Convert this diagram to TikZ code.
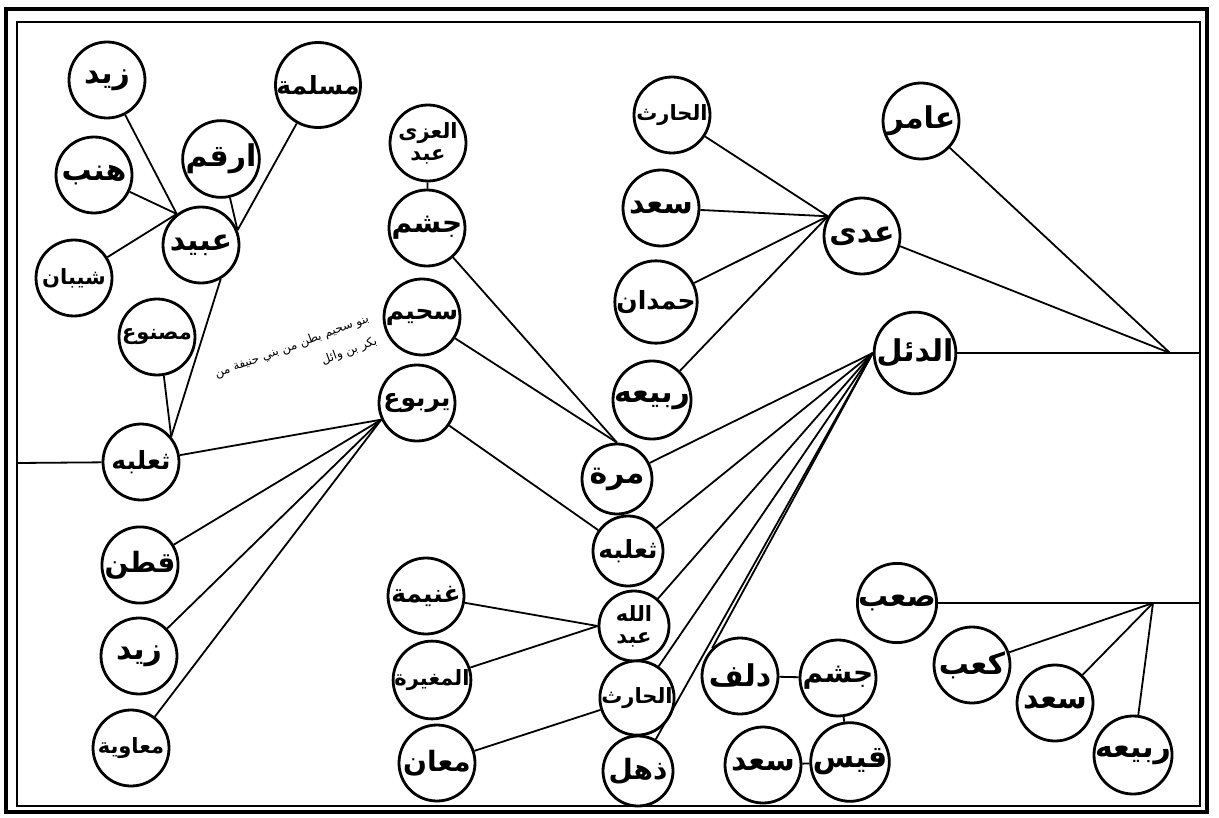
\documentclass[tikz,border=0pt]{standalone}
\usepackage{fontspec}
\usepackage{tikz}
\usetikzlibrary{positioning, calc}
\newfontfamily\arabicfont[Script=Arabic]{DejaVu Sans}
\TeXXeTstate=1
\newcommand{\ar}[1]{{\arabicfont\beginR #1\endR}}

\begin{document}
\begin{tikzpicture}[
    x=0.5pt, y=-0.5pt,
    person/.style={
        circle,
        draw=black,
        fill=white,
        minimum size=38pt,
        inner sep=0pt,
        line width=1.4pt,
        align=center,
        font=\bfseries\fontsize{15}{13}\selectfont
    },
    smallperson/.style={
        person,
        minimum size=35pt
    },
    midname/.style={
        font=\bfseries\fontsize{14}{13}\selectfont
    },
    widename/.style={
        font=\bfseries\fontsize{12.5}{12}\selectfont
    },
    tightname/.style={
        font=\bfseries\fontsize{10.5}{11}\selectfont
    },
    link/.style={
        line width=0.9pt,
        draw=black
    },
    note/.style={
        font=\fontsize{6}{12}\selectfont,
        align=right
    }
]
\useasboundingbox (0,0) rectangle (1219,818);

% Page frame
\draw[line width=2pt] (6,9) rectangle (1207,812);
\draw[line width=0.7pt] (17,22) rectangle (1200,806);

% Far left: Ubayd and his sons
\node[person] (zaydA) at (107,80) {\ar{زيد}};
\node[person, widename] (maslama) at (318,85) {\ar{مسلمة}};
\node[person] (arqam) at (221,159) {\ar{ارقم}};
\node[person] (hinb) at (94,175) {\ar{هنب}};
\node[person] (ubayd) at (201,245) {\ar{عبيد}};
\node[person, tightname] (shayban) at (74,278) {\ar{شيبان}};
\node[person, tightname] (masnu) at (157,337) {\ar{مصنوع}};

% Far left: Thalaba and brothers
\node[person, widename] (thalabaA) at (141,462) {\ar{ثعلبه}};
\node[person, midname] (qatan) at (140,565) {\ar{قطن}};
\node[person] (zaydB) at (139,656) {\ar{زيد}};
\node[person, tightname] (muawiya) at (131,748) {\ar{معاوية}};

% Middle column
\node[person, tightname] (abduzza) at (428,143) {\ar{العزى}\\\ar{عبد}};
\node[person, midname] (jushamA) at (427,228) {\ar{جشم}};
\node[person, widename] (suhaym) at (422,317) {\ar{سحيم}};
\node[person, widename] (yarbu) at (417,403) {\ar{يربوع}};
\node[person, widename] (ghunayma) at (426,596) {\ar{غنيمة}};
\node[person, tightname] (mughira) at (432,680) {\ar{المغيرة}};
\node[person, midname] (maan) at (437,763) {\ar{معان}};

\node[note, rotate=20] (suhaymnote) at (296,358) {\ar{بنو سحيم بطن من بني حنيفة من}\\\ar{بكر بن وائل}};

% Sons of al-Duil
\node[smallperson] (murra) at (617,479) {\ar{مرة}};
\node[smallperson, widename] (thalabaB) at (628,551) {\ar{ثعلبه}};
\node[smallperson, tightname] (abdallah) at (634,626) {\ar{الله}\\\ar{عبد}};
\node[smallperson, tightname] (harithB) at (637,698) {\ar{الحارث}};
\node[smallperson, midname] (dhuhl) at (638,771) {\ar{ذهل}};

% Sons of Adi
\node[person, tightname] (harithA) at (672,115) {\ar{الحارث}};
\node[person] (sadA) at (661,208) {\ar{سعد}};
\node[person, widename] (hamdan) at (656,302) {\ar{حمدان}};
\node[person] (rabiaA) at (652,400) {\ar{ربيعه}};

% Right: Amir, Adi, al-Duil
\node[person] (amir) at (921,121) {\ar{عامر}};
\node[person] (adi) at (862,236) {\ar{عدى}};
\node[person, minimum size=40pt] (duil) at (915,353) {\ar{الدئل}};
\coordinate (rootA) at (1170,353);
\coordinate (edgeA) at (1200,353);

% Bottom right: Sab and his sons
\node[person] (sab) at (897,603) {\ar{صعب}};
\node[person] (kab) at (972,665) {\ar{كعب}};
\node[person] (sadB) at (1055,703) {\ar{سعد}};
\node[person] (rabiaB) at (1133,755) {\ar{ربيعه}};
\coordinate (rootB) at (1153,603);
\coordinate (edgeB) at (1200,603);

% Bottom: Dulaf, Jusham, Qays, Sad
\node[person] (dulaf) at (740,676) {\ar{دلف}};
\node[person, midname] (jushamB) at (838,678) {\ar{جشم}};
\node[person] (qays) at (850,762) {\ar{قيس}};
\node[person] (sadC) at (763,765) {\ar{سعد}};

\coordinate (edgeC) at (17,463);

% Links round Ubayd
\draw[link] (zaydA) -- (ubayd.128);
\draw[link] (hinb) -- (ubayd.128);
\draw[link] (shayban) -- (ubayd.128);
\draw[link] (arqam) -- (ubayd.22);
\draw[link] (maslama) -- (ubayd.22);
\draw[link] (ubayd.-60) -- (thalabaA.40);
\draw[link] (masnu.-80) -- (thalabaA.40);

% Links round Yarbu
\draw[link] (edgeC) -- (thalabaA);
\draw[link] (thalabaA) -- (yarbu.205);
\draw[link] (qatan) -- (yarbu.205);
\draw[link] (zaydB) -- (yarbu.205);
\draw[link] (muawiya) -- (yarbu.205);
\draw[link] (yarbu) -- (thalabaB);

% Links round Murra
\draw[link] (abduzza) -- (jushamA);
\draw[link] (jushamA) -- (murra.north);
\draw[link] (suhaym) -- (murra.north);

% Links round Abdallah and al-Harith
\draw[link] (ghunayma) -- (abdallah.west);
\draw[link] (mughira) -- (abdallah.west);
\draw[link] (maan) -- (harithB);

% Links round Adi
\draw[link] (harithA) -- (adi.150);
\draw[link] (sadA) -- (adi.150);
\draw[link] (hamdan) -- (adi.150);
\draw[link] (rabiaA) -- (adi.150);
\draw[link] (adi.-15) -- (rootA);
\draw[link] (amir) -- (rootA);
\draw[link] (duil) -- (edgeA);

% Fan from al-Duil
\draw[link] (duil.west) -- (murra);
\draw[link] (duil.west) -- (thalabaB);
\draw[link] (duil.west) -- (abdallah);
\draw[link] (duil.west) -- (harithB);
\draw[link] (duil.west) -- (dhuhl);
\draw[link] (duil.west) -- (dulaf.135);

% Links round Sab
\draw[link] (sab) -- (edgeB);
\draw[link] (kab) -- (rootB);
\draw[link] (sadB) -- (rootB);
\draw[link] (rabiaB) -- (rootB);

% Links round Jusham and Qays
\draw[link] (dulaf) -- (jushamB);
\draw[link] (jushamB) -- (qays);
\draw[link] (sadC) -- (qays);

\end{tikzpicture}
\end{document}
